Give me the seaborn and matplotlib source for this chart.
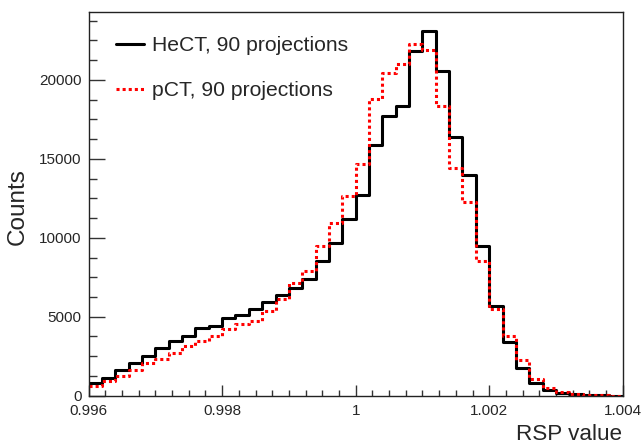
import numpy as np
import pandas as pd
import seaborn as sns
from matplotlib import pyplot as plt
from matplotlib.lines import Line2D
from matplotlib.ticker import FixedLocator, FixedFormatter, MultipleLocator

# histogram binning: 40 bins from 0.996 to 1.004
x_min, x_max, n_bins = 0.996, 1.004, 40

hect_counts = [800, 1110, 1600, 2060, 2540, 3000, 3470, 3800, 4260, 4430,
               4910, 5100, 5480, 5940, 6360, 6850, 7370, 8500, 9650, 11200,
               12720, 15890, 17720, 18320, 21840, 23120, 20570, 16380, 13990, 9500,
               5650, 3380, 1750, 800, 380, 170, 85, 40, 20, 5]
pct_counts = [630, 945, 1260, 1640, 2060, 2330, 2690, 3170, 3490, 3780,
              4200, 4520, 4730, 5360, 6110, 7160, 7900, 9450, 10920, 12620,
              14690, 18780, 20430, 21020, 22260, 21860, 18360, 14410, 12240, 8500,
              5490, 3760, 2240, 1055, 485, 210, 105, 30, 15, 5]

labels = ["HeCT, 90 projections", "pCT, 90 projections"]
x_ticks = [0.996, 0.998, 1.0, 1.002, 1.004]
x_tick_labels = ["0.996", "0.998", "1", "1.002", "1.004"]
y_ticks = [0, 5000, 10000, 15000, 20000]
y_tick_labels = ["0", "5000", "10000", "15000", "20000"]

edges = np.linspace(x_min, x_max, n_bins + 1)
centers = 0.5 * (edges[:-1] + edges[1:])
df = pd.DataFrame({
    "rsp": np.concatenate([centers, centers]),
    "counts": hect_counts + pct_counts,
    "scan": [labels[0]] * n_bins + [labels[1]] * n_bins,
})

sns.set_theme(style="white")
plt.rcParams["font.family"] = ["Liberation Sans", "DejaVu Sans"]

fig = plt.figure(figsize=(6.42, 4.46), dpi=100)
ax = fig.add_axes([0.138, 0.1128, 0.832, 0.8596])

sns.histplot(data=df[df.scan == labels[0]], x="rsp", weights="counts",
             bins=n_bins, binrange=(x_min, x_max),
             element="step", fill=False, color="black", linewidth=2.2, ax=ax)
sns.histplot(data=df[df.scan == labels[1]], x="rsp", weights="counts",
             bins=n_bins, binrange=(x_min, x_max),
             element="step", fill=False, color="red", linewidth=2.2,
             linestyle=(0, (1, 1)), ax=ax)

ax.set_xlim(x_min, x_max)
ax.set_ylim(0, 1.05 * max(hect_counts))
ax.set_xlabel("")
ax.set_ylabel("")

# ROOT-like axes: ticks inside, on left and bottom only
ax.xaxis.set_major_locator(FixedLocator(x_ticks))
ax.xaxis.set_major_formatter(FixedFormatter(x_tick_labels))
ax.xaxis.set_minor_locator(MultipleLocator(0.00025))
ax.yaxis.set_major_locator(FixedLocator(y_ticks))
ax.yaxis.set_major_formatter(FixedFormatter(y_tick_labels))
ax.yaxis.set_minor_locator(MultipleLocator(1250))
ax.tick_params(axis="x", which="major", direction="in", length=8, width=1,
               color="#333333", labelsize=11, pad=6, bottom=True)
ax.tick_params(axis="x", which="minor", direction="in", length=4, width=1,
               color="#333333", bottom=True)
ax.tick_params(axis="y", which="major", direction="in", length=11.5, width=1,
               color="#333333", labelsize=11, pad=5, left=True)
ax.tick_params(axis="y", which="minor", direction="in", length=5.8, width=1,
               color="#333333", left=True)
for side in ax.spines.values():
    side.set_color("#222222")
    side.set_linewidth(1.0)

fig.text(622 / 642, 1 - 435 / 446, "RSP value", ha="right", va="center", fontsize=16.2)
fig.text(18 / 642, 1 - 207 / 446, "Counts", ha="center", va="center",
         rotation=90, fontsize=17.5)

handles = [Line2D([], [], color="black", lw=2.2),
           Line2D([], [], color="red", lw=2.2, linestyle=(0, (1, 1)))]
ax.legend(handles, labels, loc="upper left", bbox_to_anchor=(0.035, 0.96),
          frameon=False, fontsize=15.2, handlelength=1.35, handletextpad=0.38,
          labelspacing=1.25, borderaxespad=0)

fig.savefig("out.png", dpi=100)
